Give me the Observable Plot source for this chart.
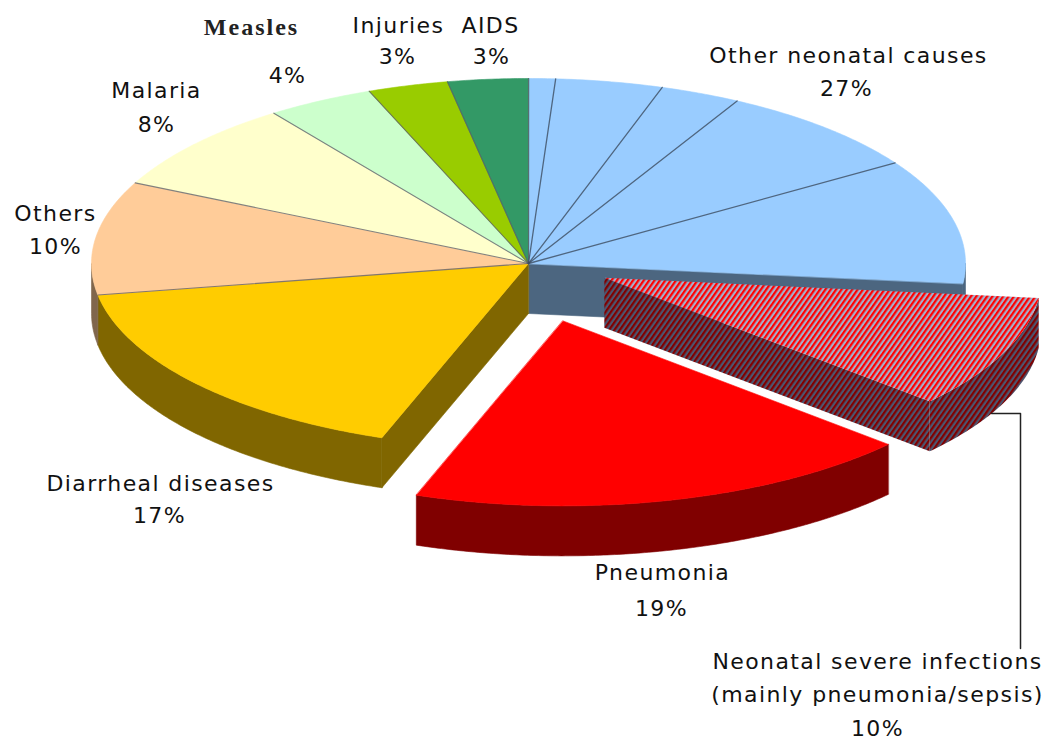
<!DOCTYPE html>
<html>
<head>
<meta charset="utf-8">
<script src="https://cdn.jsdelivr.net/npm/d3@7"></script>
<script src="https://cdn.jsdelivr.net/npm/@observablehq/plot@0.6"></script>
<style>
  html, body { margin: 0; padding: 0; background: #fff; }
  #chart svg { display: block; }
  #chart svg text { letter-spacing: 1.4px; }
  #chart svg g[font-family*="Serif"] text { letter-spacing: 2px; }
</style>
</head>
<body>
<div id="chart"></div>
<script>
// ---------- data ----------
const categories = [
  "Other neonatal causes",
  "Neonatal severe infections\n(mainly pneumonia/sepsis)",
  "Pneumonia",
  "Diarrheal diseases",
  "Others",
  "Malaria",
  "Measles",
  "Injuries",
  "AIDS"
];
const values = [27, 10, 19, 17, 10, 8, 4, 3, 3];
// sub-divisions drawn inside "Other neonatal causes"
const neonatalParts = [1, 4, 3, 8, 11];

// ---------- styles ----------
const topColors  = ["#99CCFF", "url(#hatchTop)", "#FF0000", "#FFCC00", "#FFCC99", "#FFFFCC", "#CCFFCC", "#99CC00", "#339966"];
const sideColors = ["#4C6680", "url(#hatchSide)", "#800000", "#806600", "#80664C", "#808066", "#668066", "#4C6600", "#1A4C33"];
const explode    = [0, 0.19, 0.32, 0, 0, 0, 0, 0, 0];

// ---------- layout ----------
const W = 1050, H = 742;
const CX = 528, CY = 263, RX = 437, RY = 185, DEPTH = 50;
const namePos = [[848, 62], [877, 668], [662, 579], [160, 490], [55, 220], [156, 97], [251, 34], [398, 32], [490, 32]];
const pctPos  = [[846, 95], [877, 735], [661, 615], [159, 522], [55, 253], [156, 131], [287, 82], [397, 63], [491, 63]];
const LINE_GAP = 33;
const LEADER_X = 1020, LEADER_END_Y = 648;
const FONT = "DejaVu Sans", FONT_SIZE = 22;

// ---------- geometry ----------
const arcs = d3.pie().sort(null).value(d => d)(values);
const offsets = arcs.map((a, i) => {
  const mid = (a.startAngle + a.endAngle) / 2;
  return [explode[i] * RX * Math.sin(mid), -explode[i] * RY * Math.cos(mid)];
});
const P = (a, r, z, off) => ({
  x: CX + off[0] + RX * r * Math.sin(a),
  y: CY + off[1] - RY * r * Math.cos(a) + z
});
function arcPts(a0, a1, z, off) {
  const n = Math.max(2, Math.ceil(Math.abs(a1 - a0) / (Math.PI / 360)));
  const pts = [];
  for (let k = 0; k <= n; k++) pts.push(P(a0 + (a1 - a0) * k / n, 1, z, off));
  return pts;
}
function topPoly(i) {
  const a = arcs[i], off = offsets[i];
  return [P(0, 0, 0, off), ...arcPts(a.startAngle, a.endAngle, 0, off)];
}
function wallPoly(i) {
  const a = arcs[i], off = offsets[i];
  const b0 = Math.max(a.startAngle, Math.PI / 2), b1 = Math.min(a.endAngle, 3 * Math.PI / 2);
  if (b1 <= b0) return null;
  return [...arcPts(b0, b1, 0, off), ...arcPts(b1, b0, DEPTH, off)];
}
function cutPoly(i, ang) {
  const off = offsets[i];
  return [P(ang, 0, 0, off), P(ang, 1, 0, off), P(ang, 1, DEPTH, off), P(ang, 0, DEPTH, off)];
}
const isSolid = c => !c.startsWith("url(");
function poly(pts, fill) {
  return Plot.line(pts, {
    x: "x", y: "y", curve: "linear-closed",
    fill, stroke: isSolid(fill) ? fill : "none", strokeWidth: 0.6
  });
}
// which cut faces are visible for slice i
function cutFaces(i) {
  const a = arcs[i], n = arcs.length;
  const prev = (i - 1 + n) % n, next = (i + 1) % n;
  const faces = [];
  const startVisible = Math.sin(a.startAngle) < 0;
  const endVisible = Math.sin(a.endAngle) > 0;
  if (startVisible && (explode[i] > 0 || explode[prev] > 0)) faces.push(a.startAngle);
  if (endVisible && (explode[i] > 0 || explode[next] > 0)) faces.push(a.endAngle);
  return faces;
}

const marks = [];
const flat = values.map((_, i) => i).filter(i => explode[i] === 0);
const exploded = values.map((_, i) => i).filter(i => explode[i] > 0);

flat.forEach(i => { const w = wallPoly(i); if (w) marks.push(poly(w, sideColors[i])); });
flat.forEach(i => cutFaces(i).forEach(ang => marks.push(poly(cutPoly(i, ang), sideColors[i]))));
flat.forEach(i => marks.push(poly(topPoly(i), topColors[i])));

// boundary lines between adjacent non-exploded slices
const boundaryLines = [];
arcs.forEach((a, i) => {
  const next = (i + 1) % arcs.length;
  if (explode[i] === 0 && explode[next] === 0) {
    boundaryLines.push([P(a.endAngle, 0, 0, [0, 0]), P(a.endAngle, 1, 0, [0, 0])]);
  }
});
boundaryLines.forEach(l => marks.push(Plot.line(l, {x: "x", y: "y", stroke: "#5a5a66", strokeWidth: 1.1, strokeOpacity: 0.75})));

// sub-division lines of "Other neonatal causes"
{
  const a = arcs[0];
  const total = d3.sum(neonatalParts);
  let cum = 0;
  neonatalParts.slice(0, -1).forEach(v => {
    cum += v;
    const ang = a.startAngle + (a.endAngle - a.startAngle) * cum / total;
    marks.push(Plot.line([P(ang, 0, 0, [0, 0]), P(ang, 1, 0, [0, 0])],
      {x: "x", y: "y", stroke: "#3c4c60", strokeWidth: 1.3, strokeOpacity: 0.8}));
  });
}

exploded.forEach(i => {
  const w = wallPoly(i); if (w) marks.push(poly(w, sideColors[i]));
  cutFaces(i).forEach(ang => marks.push(poly(cutPoly(i, ang), sideColors[i])));
  marks.push(poly(topPoly(i), topColors[i]));
});

// leader line for the neonatal severe infections slice
{
  const a = arcs[1];
  const ang = a.startAngle + 0.6 * (a.endAngle - a.startAngle);
  const s = P(ang, 1, DEPTH, offsets[1]);
  marks.push(Plot.line([s, {x: LEADER_X, y: s.y}, {x: LEADER_X, y: LEADER_END_Y}],
    {x: "x", y: "y", stroke: "#222", strokeWidth: 1.5}));
}

// labels
const sansRows = [], serifRows = [];
categories.forEach((name, i) => {
  const lines = name.split("\n");
  const target = name === "Measles" ? serifRows : sansRows;
  lines.forEach((ln, k) => target.push({x: namePos[i][0], y: namePos[i][1] + k * LINE_GAP, text: ln}));
  sansRows.push({x: pctPos[i][0], y: pctPos[i][1], text: `${values[i]}%`});
});
marks.push(Plot.text(sansRows, {x: "x", y: "y", text: "text", textAnchor: "middle", lineAnchor: "bottom",
  fontFamily: FONT, fontSize: FONT_SIZE, fill: "#111"}));
marks.push(Plot.text(serifRows, {x: "x", y: "y", text: "text", textAnchor: "middle", lineAnchor: "bottom",
  fontFamily: "Liberation Serif", fontSize: 24, fontWeight: "bold", fill: "#222"}));

const svg = Plot.plot({
  width: W, height: H,
  margin: 0,
  x: {domain: [0, W], range: [0, W], axis: null},
  y: {domain: [0, H], range: [0, H], axis: null},
  style: {background: "#fff", overflow: "visible"},
  marks
});

// hatch patterns
const ns = "http://www.w3.org/2000/svg";
const defs = document.createElementNS(ns, "defs");
function addPattern(id, bg, stripe) {
  const p = document.createElementNS(ns, "pattern");
  p.setAttribute("id", id);
  p.setAttribute("patternUnits", "userSpaceOnUse");
  p.setAttribute("width", "4.4");
  p.setAttribute("height", "4.4");
  p.setAttribute("patternTransform", "rotate(35)");
  const r1 = document.createElementNS(ns, "rect");
  r1.setAttribute("width", "4.4"); r1.setAttribute("height", "4.4"); r1.setAttribute("fill", bg);
  const r2 = document.createElementNS(ns, "rect");
  r2.setAttribute("width", "2.2"); r2.setAttribute("height", "4.4"); r2.setAttribute("fill", stripe);
  p.appendChild(r1); p.appendChild(r2);
  defs.appendChild(p);
}
addPattern("hatchTop", "#A8AECB", "#FF0000");
addPattern("hatchSide", "#4C5670", "#800000");
svg.insertBefore(defs, svg.firstChild);

document.getElementById("chart").appendChild(svg);
</script>
</body>
</html>
